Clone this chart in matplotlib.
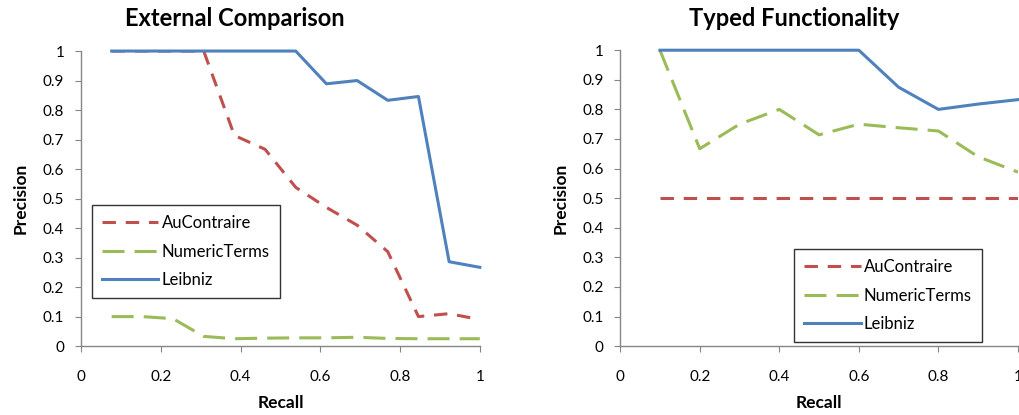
import matplotlib
matplotlib.use("Agg")
import matplotlib.pyplot as plt

plt.rcParams['font.family'] = ['Lato', 'DejaVu Sans']

# External Comparison data (13 recall points)
ext_recall = [1/13, 2/13, 3/13, 4/13, 5/13, 6/13, 7/13, 8/13, 9/13, 10/13, 11/13, 12/13, 1.0]
ext_aucontraire = [1, 1, 1, 1, 0.714, 0.667, 0.538, 0.47, 0.41, 0.32, 0.1, 0.11, 0.09]
ext_numeric = [0.1, 0.1, 0.093, 0.033, 0.025, 0.027, 0.028, 0.028, 0.03, 0.026, 0.025, 0.025, 0.025]
ext_leibniz = [1, 1, 1, 1, 1, 1, 1, 0.889, 0.9, 0.833, 0.846, 0.286, 0.267]

# Typed Functionality data
typ_recall = [0.1, 0.2, 0.3, 0.4, 0.5, 0.6, 0.7, 0.8, 0.9, 1.0]
typ_aucontraire = [0.5, 0.5, 0.5, 0.5, 0.5, 0.5, 0.5, 0.5, 0.5, 0.5]
typ_numeric = [1, 0.667, 0.75, 0.8, 0.714, 0.75, 0.738, 0.727, 0.64, 0.588]
typ_leibniz = [1, 1, 1, 1, 1, 1, 0.875, 0.8, 0.818, 0.833]

ticks = [0, 0.2, 0.4, 0.6, 0.8, 1]
tick_labels = ['0', '0.2', '0.4', '0.6', '0.8', '1']
yticks = [0, 0.1, 0.2, 0.3, 0.4, 0.5, 0.6, 0.7, 0.8, 0.9, 1]
ytick_labels = ['0', '0.1', '0.2', '0.3', '0.4', '0.5', '0.6', '0.7', '0.8', '0.9', '1']

red = '#C0504D'
green = '#9BBB59'
blue = '#4F81BD'
lw = 2.2

fig = plt.figure(figsize=(10.2, 4.15), dpi=100)
ax1 = fig.add_axes([0.0794, 0.166, 0.391, 0.711])
ax2 = fig.add_axes([0.608, 0.166, 0.390, 0.713])


def draw(ax, x, au, num, lei, legend_anchor):
    ax.plot(x, au, color=red, lw=lw, linestyle=(0, (4.4, 3.2)), label='AuContraire')
    ax.plot(x, num, color=green, lw=lw, linestyle=(0, (7.2, 3.3)), label='NumericTerms')
    ax.plot(x, lei, color=blue, lw=lw, label='Leibniz', clip_on=False)
    ax.set_xlim(0, 1)
    ax.set_ylim(0, 1)
    ax.set_xticks(ticks)
    ax.set_xticklabels(tick_labels)
    ax.set_yticks(yticks)
    ax.set_yticklabels(ytick_labels)
    for s in ['top', 'right']:
        ax.spines[s].set_visible(False)
    for s in ['left', 'bottom']:
        ax.spines[s].set_color('#868686')
        ax.spines[s].set_linewidth(1)
    ax.tick_params(axis='both', color='#868686', length=4, labelsize=11)
    ax.tick_params(axis='x', pad=13)
    ax.tick_params(axis='y', pad=8)
    ax.set_xlabel('Recall', fontsize=12.5, fontweight='bold', labelpad=8)
    ax.set_ylabel('Precision', fontsize=12.5, fontweight='bold', labelpad=10)
    leg = ax.legend(loc='upper left', bbox_to_anchor=legend_anchor, fontsize=12,
                    frameon=True, fancybox=False, handlelength=3.4, borderpad=0.6,
                    labelspacing=0.75, handletextpad=0.2, borderaxespad=0)
    leg.get_frame().set_edgecolor('black')
    leg.get_frame().set_linewidth(1)


draw(ax1, ext_recall, ext_aucontraire, ext_numeric, ext_leibniz, (0.027, 0.478))
draw(ax2, typ_recall, typ_aucontraire, typ_numeric, typ_leibniz, (0.437, 0.328))

fig.text(235 / 1020, 1 - 18 / 415, 'External Comparison', ha='center', va='center',
         fontsize=17, fontweight='bold')
fig.text(794 / 1020, 1 - 18 / 415, 'Typed Functionality', ha='center', va='center',
         fontsize=17, fontweight='bold')

fig.savefig('out.png', dpi=100)
